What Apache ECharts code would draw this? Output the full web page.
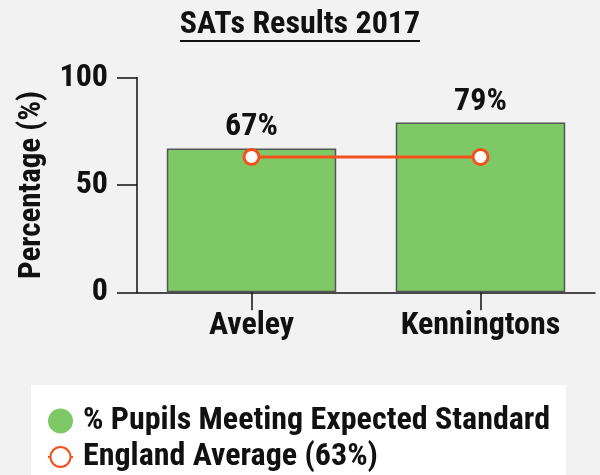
<!DOCTYPE html>
<html><head><meta charset="utf-8">
<script src="https://cdn.jsdelivr.net/npm/echarts@6/dist/echarts.min.js"></script>
<style>html,body{margin:0;padding:0;background:#f2f2f2}#c{width:600px;height:475px}</style>
</head><body><div id="c"></div>
<script>
const categories = ['Aveley', 'Kenningtons'];
const pupilsMeeting = [67, 79];
const englandAverage = [63, 63];
const yTicks = [0, 50, 100];
const seriesNames = ['% Pupils Meeting Expected Standard', 'England Average (63%)'];
const titleText = 'SATs Results 2017';

const FONT = "'Roboto Condensed', sans-serif";
const chart = echarts.init(document.getElementById('c'));
chart.setOption({
  backgroundColor: '#f2f2f2',
  animation: false,
  title: {
    text: titleText, left: 'center', top: 4,
    textStyle: {fontFamily: FONT, fontWeight: 'bold', fontSize: 32, color: '#111'}
  },
  graphic: [{type: 'line', shape: {x1: 180, y1: 41, x2: 420, y2: 41}, style: {stroke: '#111', lineWidth: 2}}],
  grid: {left: 137, right: 5, top: 77.5, bottom: 182.7, containLabel: false},
  xAxis: {
    type: 'category', data: categories,
    axisLine: {lineStyle: {color: '#111', width: 1.5}},
    axisTick: {show: true, alignWithLabel: true, length: 18, lineStyle: {color: '#111', width: 1.5}},
    axisLabel: {fontFamily: FONT, fontWeight: 'bold', fontSize: 32, color: '#111', margin: 18}
  },
  yAxis: {
    type: 'value', min: 0, max: 100, interval: 50,
    name: 'Percentage (%)', nameLocation: 'middle', nameGap: 89, nameRotate: 90,
    nameTextStyle: {fontFamily: FONT, fontWeight: 'bold', fontSize: 31, color: '#111'},
    axisLine: {show: true, lineStyle: {color: '#111', width: 1.5}},
    axisTick: {show: true, length: 20, lineStyle: {color: '#111', width: 1.5}},
    axisLabel: {fontFamily: FONT, fontWeight: 'bold', fontSize: 32, color: '#111', margin: 29,
      formatter: v => yTicks.includes(v) ? String(v) : ''},
    splitLine: {show: false}
  },
  legend: {
    orient: 'vertical', left: 31, top: 385, height: 200,
    backgroundColor: '#ffffff', padding: [20, 16, 20, 16],
    itemWidth: 25, itemHeight: 25, itemGap: 4,
    textStyle: {fontFamily: FONT, fontWeight: 'bold', fontSize: 32, color: '#111', lineHeight: 30, padding: [0, 0, 0, 5]},
    data: [
      {name: seriesNames[0], icon: 'circle', itemStyle: {borderWidth: 0}},
      {name: seriesNames[1]}
    ]
  },
  series: [
    {
      name: seriesNames[0], type: 'bar', data: pupilsMeeting, barWidth: '74%',
      itemStyle: {color: '#7fc866', borderColor: '#555', borderWidth: 1.5},
      label: {show: true, position: 'top', distance: 5, formatter: '{c}%',
        fontFamily: FONT, fontWeight: 'bold', fontSize: 32, color: '#111'}
    },
    {
      name: seriesNames[1], type: 'line', data: englandAverage,
      symbol: 'circle', symbolSize: 15,
      lineStyle: {color: '#f4511e', width: 3},
      itemStyle: {color: '#ffffff', borderColor: '#f4511e', borderWidth: 3}
    }
  ]
});
</script></body></html>
